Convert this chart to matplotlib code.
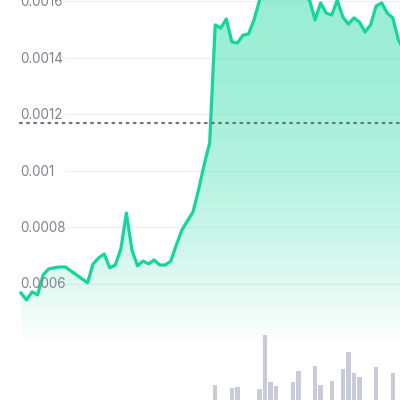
import numpy as np
import matplotlib
matplotlib.use("Agg")
import matplotlib.pyplot as plt

# ---- data ----
price = [0.000568, 0.000543, 0.000572, 0.000561, 0.000632, 0.000653, 0.000657, 0.000660,
         0.000660, 0.000646, 0.000632, 0.000618, 0.000604, 0.000671, 0.000692, 0.000706,
         0.000657, 0.000667, 0.000724, 0.000851, 0.000720, 0.000664, 0.000681, 0.000671,
         0.000685, 0.000667, 0.000667, 0.000681, 0.000738, 0.000791, 0.000823, 0.000855,
         0.000933, 0.001021, 0.001099, 0.001517, 0.001506, 0.001538, 0.001457, 0.001453,
         0.001481, 0.001485, 0.001535, 0.001605, 0.001641, 0.001658, 0.001634, 0.001669,
         0.001648, 0.001676, 0.001641, 0.001623, 0.001605, 0.001535, 0.001595, 0.001559,
         0.001552, 0.001605, 0.001545, 0.001520, 0.001542, 0.001527, 0.001492, 0.001517,
         0.001584, 0.001595, 0.001559, 0.001542, 0.001464, 0.001428]
vol_idx = [35, 38, 39, 43, 44, 45, 46, 49, 50, 53, 54, 56, 58, 59, 60, 61, 64, 67]
vol_val = [15, 12, 13, 11, 65, 18, 14, 18, 29, 34, 15, 19, 31, 48, 27, 23, 33, 27]
tick_vals = [0.0006, 0.0008, 0.001, 0.0012, 0.0014, 0.0016]
tick_labels = ["0.0006", "0.0008", "0.001", "0.0012", "0.0014", "0.0016"]
ref_price = 0.00117

x = np.arange(len(price))
y = np.array(price)

fig = plt.figure(figsize=(4, 4), dpi=100)
ax = fig.add_axes([0, 0, 1, 1])
xmin, xmax = -3.78, 68.3
ymin, ymax = 0.000189, 0.0016053
ax.set_xlim(xmin, xmax)
ax.set_ylim(ymin, ymax)
ax.axis("off")

# volume on twin axis
axv = ax.twinx()
axv.set_ylim(0, 400)
axv.axis("off")
axv.bar(vol_idx, vol_val, width=0.8, color="#c9cbd9", zorder=1)

# gridlines
frac_start = (65 / 400) * (xmax - xmin) + xmin
for tv in tick_vals:
    ax.plot([frac_start, xmax], [tv, tv], color="#f1f1f4", lw=1, zorder=0)

# gradient fill
green = np.array([0.06, 0.84, 0.60])
n = 256
grad = np.zeros((n, 1, 4))
grad[:, 0, :3] = green
ys = np.linspace(ymax, ymin, n)
pix = (ymax - ys) / (ymax - ymin) * 400
alpha = 0.42 * np.clip(1 - (pix / 345) ** 1.9, 0, 1)
grad[:, 0, 3] = alpha
im = ax.imshow(grad, extent=[xmin, xmax, ymin, ymax], aspect="auto", zorder=2, origin="upper")
poly = ax.fill_between(x, y, ymin, color="none", lw=0)
clip = poly.get_paths()[0]
im.set_clip_path(clip, transform=ax.transData)

# price line
ax.plot(x, y, color="#14d69c", lw=2.3, zorder=4, solid_joinstyle="round")

# reference dotted line
ax.plot([xmin + (20 / 400) * (xmax - xmin), xmax], [ref_price, ref_price], color="#6f7380",
        lw=1.6, linestyle=(0, (0.8, 2.4)), dash_capstyle="round", zorder=5)

# tick labels
for tv, tl in zip(tick_vals, tick_labels):
    ax.text(xmin + (20 / 400) * (xmax - xmin), tv - 0.000002, tl, color="#7f8391",
            fontsize=9.7, family="Inter", va="center", ha="left", zorder=6)

fig.savefig("out.png", dpi=100)
